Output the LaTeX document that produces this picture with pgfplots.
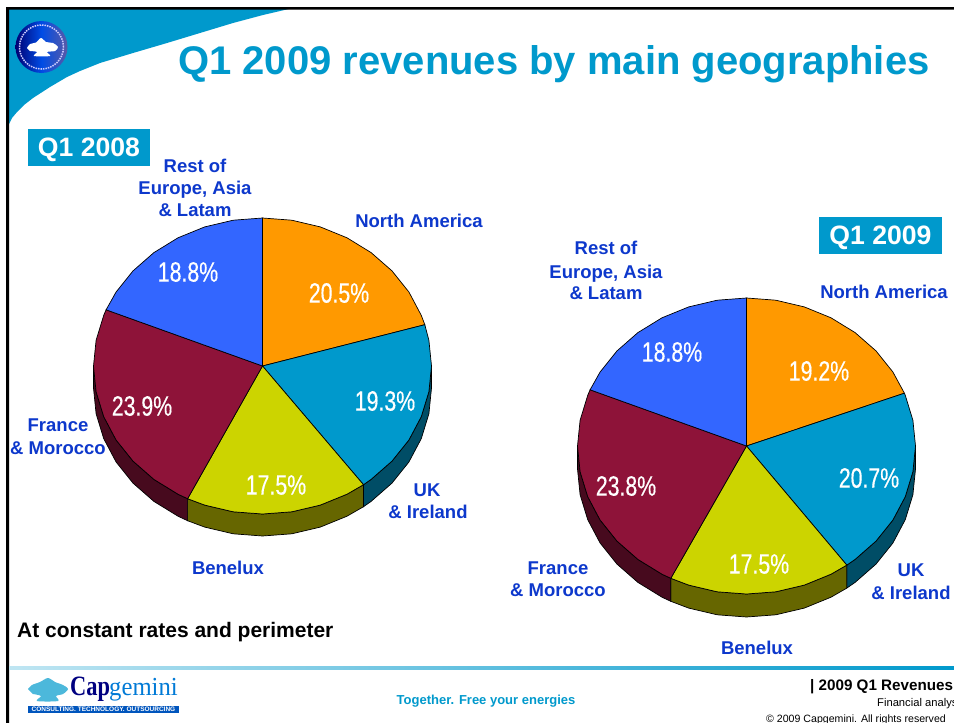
\documentclass[border=0pt]{standalone}
\usepackage{pgfplots}
\pgfplotsset{compat=1.18}
\usepackage{fontspec}
\setmainfont{Liberation Sans}
\newfontfamily\pct[FakeStretch=0.76,FakeBold=0.4]{Liberation Sans}
\newfontfamily\lgsa[FakeStretch=0.8]{Liberation Serif}
\newfontfamily\lgsb[FakeStretch=0.95]{Liberation Serif}
\definecolor{capblue}{RGB}{0,153,204}
\definecolor{lab}{RGB}{13,56,204}
\definecolor{na}{RGB}{255,153,0}
\definecolor{uk}{RGB}{0,153,204}
\definecolor{be}{RGB}{204,212,0}
\definecolor{fr}{RGB}{142,19,57}
\definecolor{re}{RGB}{51,102,255}
\definecolor{uks}{RGB}{0,77,102}
\definecolor{bes}{RGB}{102,102,0}
\definecolor{frs}{RGB}{71,10,30}
\newcommand{\lb}[4][lab]{\node[anchor=base,text=#1,font=\fontsize{18.5}{20}\selectfont\bfseries,inner sep=0pt] at (axis cs:#2,#3) {#4};}
\newcommand{\pc}[3]{\node[anchor=center,text=white,font=\fontsize{28}{30}\pct,inner sep=0pt] at (axis cs:#1,#2) {#3};}
\begin{document}
\begin{tikzpicture}
\path[use as bounding box,clip] (0,0) rectangle (954pt,723pt);
\fill[white] (0,0) rectangle (954pt,723pt);
\begin{axis}[at={(0,0)},anchor=south west,scale only axis,width=954pt,height=723pt,
  xmin=0,xmax=954,ymin=0,ymax=723,y dir=reverse,hide axis,clip=false]
% header swoosh
\addplot[fill=capblue,draw=none] coordinates {(9,8)(293,8)(263,15)(233,23)(200,33)(167,43)(133,53)(100,63)(80,71)(67,77)(50,87)(33,98)(24,105)(17,112)(12,118)(9,124)} -- cycle;
% frame
\addplot[fill=black,draw=none] coordinates {(6,7)(954,7)(954,9.5)(9,9.5)(9,723)(6,723)} -- cycle;
% footer rule
\addplot[draw=none,left color=capblue!25,right color=capblue] coordinates {(9,666.5)(954,666.5)(954,669.5)(9,669.5)} -- cycle;
% emblem
\shade[left color=blue!45!black,right color=gray!70!blue,middle color=blue!50!capblue] (axis cs:41.5,47) circle [radius=26pt];
\draw[white!80!blue,densely dotted,line width=1.5pt] (axis cs:41.5,47) circle [radius=22pt];
\addplot[fill=white,draw=none,smooth] coordinates {(27,48)(30,44)(36,42.5)(41,38)(46,42)(53,43)(58,47)(55,51)(47,52)(50,56)(34,56)(37,52)(30,51)} -- cycle;
% title
\node[anchor=base west,text=capblue,font=\fontsize{40}{44}\selectfont\bfseries,inner sep=0pt] at (axis cs:178,74) {Q1 2009 revenues by main geographies};
% period boxes
\addplot[fill=capblue,draw=none] coordinates {(28,129)(150,129)(150,165.5)(28,165.5)} -- cycle;
\addplot[fill=capblue,draw=none] coordinates {(819,217)(942,217)(942,254)(819,254)} -- cycle;
\node[anchor=base,text=white,font=\fontsize{26.6}{28}\selectfont\bfseries,inner sep=0pt] at (axis cs:89,156) {Q1 2008};
\node[anchor=base,text=white,font=\fontsize{26.6}{28}\selectfont\bfseries,inner sep=0pt] at (axis cs:880.5,244) {Q1 2009};
% ---- left pie: sides
\addplot[fill=uks,draw=black,line width=0.7pt] coordinates {(431.5,366)(428.9,391.7)(421.3,416.6)(408.9,440)(392,461.1)(371.1,479.4)(363.5,484.7)(363.5,506.7)(371.1,501.4)(392,483.1)(408.9,462)(421.3,438.6)(428.9,413.7)(431.5,388)} -- cycle;
\addplot[fill=bes,draw=black,line width=0.7pt] coordinates {(363.5,484.7)(347,494.2)(320.3,505.1)(291.8,511.8)(262.5,514)(233.2,511.8)(204.7,505.1)(187.6,498.7)(187.6,520.7)(204.7,527.1)(233.2,533.8)(262.5,536)(291.8,533.8)(320.3,527.1)(347,516.2)(363.5,506.7)} -- cycle;
\addplot[fill=frs,draw=black,line width=0.7pt] coordinates {(187.6,498.7)(178,494.2)(153.9,479.4)(133,461.1)(116.1,440)(103.7,416.6)(96.1,391.7)(93.5,366)(93.5,388)(96.1,413.7)(103.7,438.6)(116.1,462)(133,483.1)(153.9,501.4)(178,516.2)(187.6,520.7)} -- cycle;
% left pie: top
\addplot[fill=na,draw=black,line width=0.7pt] coordinates {(262.5,366)(262.5,218)(291.8,220.2)(320.3,226.9)(347,237.8)(371.1,252.6)(392,270.9)(408.9,292)(421.3,315.4)(424.8,324.7)} -- cycle;
\addplot[fill=uk,draw=black,line width=0.7pt] coordinates {(262.5,366)(424.8,324.7)(428.9,340.3)(431.5,366)(428.9,391.7)(421.3,416.6)(408.9,440)(392,461.1)(371.1,479.4)(363.5,484.7)} -- cycle;
\addplot[fill=be,draw=black,line width=0.7pt] coordinates {(262.5,366)(363.5,484.7)(347,494.2)(320.3,505.1)(291.8,511.8)(262.5,514)(233.2,511.8)(204.7,505.1)(187.6,498.7)} -- cycle;
\addplot[fill=fr,draw=black,line width=0.7pt] coordinates {(262.5,366)(187.6,498.7)(178,494.2)(153.9,479.4)(133,461.1)(116.1,440)(103.7,416.6)(96.1,391.7)(93.5,366)(96.1,340.3)(103.7,315.4)(106.1,309.8)} -- cycle;
\addplot[fill=re,draw=black,line width=0.7pt] coordinates {(262.5,366)(106.1,309.8)(116.1,292)(133,270.9)(153.9,252.6)(178,237.8)(204.7,226.9)(233.2,220.2)(262.5,218)} -- cycle;
% ---- right pie: sides
\addplot[fill=uks,draw=black,line width=0.7pt] coordinates {(915.5,446)(912.9,471.7)(905.3,496.6)(892.9,520)(876,541.1)(855.1,559.4)(846.8,565.1)(846.8,588.1)(855.1,582.4)(876,564.1)(892.9,543)(905.3,519.6)(912.9,494.7)(915.5,469)} -- cycle;
\addplot[fill=bes,draw=black,line width=0.7pt] coordinates {(846.8,565.1)(831,574.2)(804.3,585.1)(775.8,591.8)(746.5,594)(717.2,591.8)(688.7,585.1)(670.8,578.3)(670.8,601.3)(688.7,608.1)(717.2,614.8)(746.5,617)(775.8,614.8)(804.3,608.1)(831,597.2)(846.8,588.1)} -- cycle;
\addplot[fill=frs,draw=black,line width=0.7pt] coordinates {(670.8,578.3)(662,574.2)(637.9,559.4)(617,541.1)(600.1,520)(587.7,496.6)(580.1,471.7)(577.5,446)(577.5,469)(580.1,494.7)(587.7,519.6)(600.1,543)(617,564.1)(637.9,582.4)(662,597.2)(670.8,601.3)} -- cycle;
% right pie: top
\addplot[fill=na,draw=black,line width=0.7pt] coordinates {(746.5,446)(746.5,298)(775.8,300.2)(804.3,306.9)(831,317.8)(855.1,332.6)(876,350.9)(892.9,372)(904.4,393.2)} -- cycle;
\addplot[fill=uk,draw=black,line width=0.7pt] coordinates {(746.5,446)(904.4,393.2)(905.3,395.4)(912.9,420.3)(915.5,446)(912.9,471.7)(905.3,496.6)(892.9,520)(876,541.1)(855.1,559.4)(846.8,565.1)} -- cycle;
\addplot[fill=be,draw=black,line width=0.7pt] coordinates {(746.5,446)(846.8,565.1)(831,574.2)(804.3,585.1)(775.8,591.8)(746.5,594)(717.2,591.8)(688.7,585.1)(670.8,578.3)} -- cycle;
\addplot[fill=fr,draw=black,line width=0.7pt] coordinates {(746.5,446)(670.8,578.3)(662,574.2)(637.9,559.4)(617,541.1)(600.1,520)(587.7,496.6)(580.1,471.7)(577.5,446)(580.1,420.3)(587.7,395.4)(590.1,389.8)} -- cycle;
\addplot[fill=re,draw=black,line width=0.7pt] coordinates {(746.5,446)(590.1,389.8)(600.1,372)(617,350.9)(637.9,332.6)(662,317.8)(688.7,306.9)(717.2,300.2)(746.5,298)} -- cycle;
% values
\pc{339}{293}{20.5\%}\pc{385}{401}{19.3\%}\pc{276}{485}{17.5\%}\pc{142}{406}{23.9\%}\pc{188}{272}{18.8\%}
\pc{819}{371}{19.2\%}\pc{869}{478}{20.7\%}\pc{759}{564}{17.5\%}\pc{626}{486}{23.8\%}\pc{672}{352}{18.8\%}
% category labels, left
\lb{195}{172}{Rest of}\lb{195}{194}{Europe, Asia}\lb{195}{216}{\& Latam}
\lb{419}{227}{North America}
\lb{58}{431}{France}\lb{58}{454}{\& Morocco}
\lb{427}{496}{UK}\lb{428}{518}{\& Ireland}
\lb{228}{574}{Benelux}
% category labels, right
\lb{606}{254}{Rest of}\lb{606}{278}{Europe, Asia}\lb{606}{299}{\& Latam}
\lb{884}{298}{North America}
\lb{558}{574}{France}\lb{558}{596}{\& Morocco}
\lb{911}{576}{UK}\lb{911}{599}{\& Ireland}
\lb{757}{654}{Benelux}
% notes and footer
\node[anchor=base west,font=\fontsize{21}{23}\selectfont\bfseries,inner sep=0pt] at (axis cs:17,637) {At constant rates and perimeter};
\node[anchor=base,text=capblue,font=\fontsize{13}{15}\selectfont\bfseries,inner sep=0pt] at (axis cs:486,704) {Together. Free your energies};
\node[anchor=base west,font=\fontsize{15.2}{16}\selectfont\bfseries,inner sep=0pt] at (axis cs:810,690) {| 2009 Q1 Revenues};
\node[anchor=base west,font=\fontsize{11.2}{12}\selectfont,inner sep=0pt] at (axis cs:877,706) {Financial analysts};
\node[anchor=base west,font=\fontsize{10.6}{12}\selectfont,inner sep=0pt] at (axis cs:766,722) {© 2009 Capgemini. All rights reserved};
% company logo
\addplot[fill=capblue!70,draw=none,smooth] coordinates {(28,689)(32,685)(40,682)(48,678)(55,682)(63,685)(68,689)(63,694)(56,696)(58,701)(37,701)(41,696)(33,694)} -- cycle;
\node[anchor=base west,text=blue!50!black,font=\fontsize{28}{29}\lgsa\bfseries,inner sep=0pt] at (axis cs:70,695) {Cap};
\node[anchor=base west,text=capblue!80!blue,font=\fontsize{26}{27}\lgsb,inner sep=0pt] at (axis cs:109,695) {gemini};
\addplot[fill=blue!35!capblue!85!black,draw=none] coordinates {(28,706)(179,706)(179,713)(28,713)} -- cycle;
\node[anchor=center,text=white,font=\fontsize{6.5}{7}\selectfont\bfseries,inner sep=0pt] at (axis cs:103.5,709.5) {CONSULTING. TECHNOLOGY. OUTSOURCING};
\end{axis}
\end{tikzpicture}
\end{document}
